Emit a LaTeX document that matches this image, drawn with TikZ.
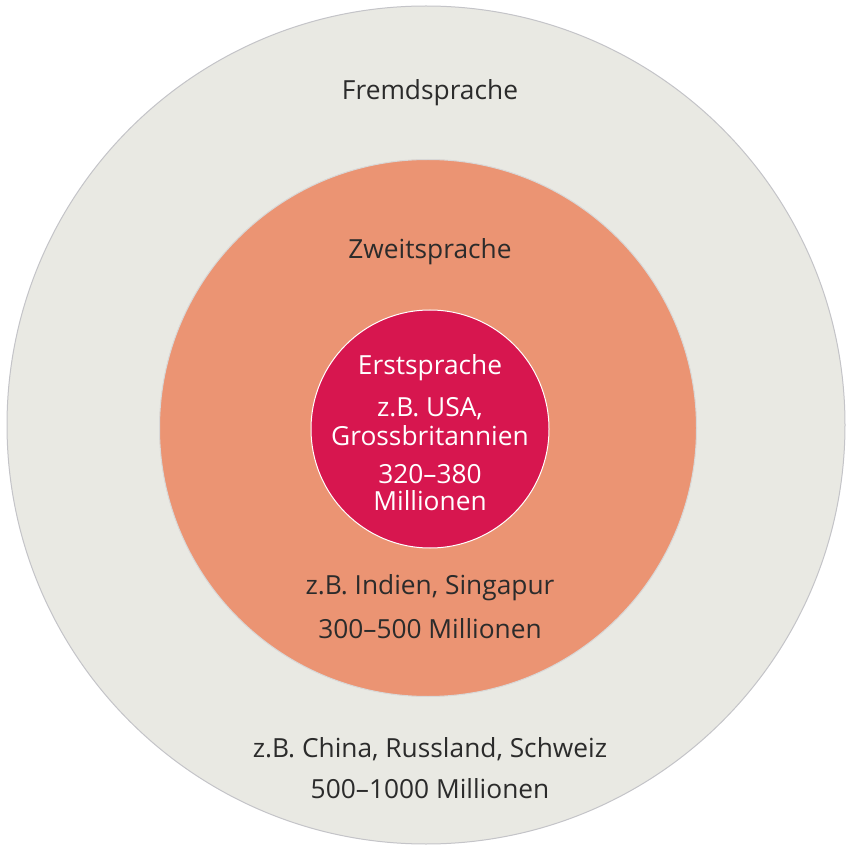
\documentclass[tikz,border=0pt]{standalone}
\usepackage{fontspec}
\setmainfont{Open Sans}
\definecolor{outerfill}{HTML}{E9E9E3}
\definecolor{outerline}{HTML}{C4C4C8}
\definecolor{midfill}{HTML}{EB9473}
\definecolor{midline}{HTML}{D8D8D8}
\definecolor{innerfill}{HTML}{D7164F}
\definecolor{txt}{HTML}{2B2B2B}
\tikzset{
  lbl/.style={font=\fontsize{26.3}{30}\selectfont, text=txt, inner sep=0pt, anchor=center},
  wlbl/.style={lbl, text=white},
}
\begin{document}
\begin{tikzpicture}[x=1pt,y=-1pt]
\useasboundingbox (0,0) rectangle (852,850);
\fill[white] (0,0) rectangle (852,850);
\node[circle, fill=outerfill, draw=outerline, line width=1pt, minimum size=838pt, inner sep=0pt] (outer) at (426,425) {};
\node[circle, fill=midfill, draw=midline, line width=1pt, minimum size=537pt, inner sep=0pt] (mid) at (428,428) {};
\node[circle, fill=innerfill, draw=white, line width=1pt, minimum size=238pt, inner sep=0pt] (inner) at (430,429) {};
\node[lbl] (fremd) at (430,93) {Fremdsprache};
\node[lbl] (zweit) at (430,252) {Zweitsprache};
\node[wlbl] (erst) at (430,368) {Erstsprache};
\node[wlbl] (usa) at (430,409) {z.B. USA,};
\node[wlbl] (gb) at (430,436) {Grossbritannien};
\node[wlbl] (n1) at (430,474) {320–380};
\node[wlbl] (m1) at (430,501) {Millionen};
\node[lbl] (ind) at (430,588) {z.B. Indien, Singapur};
\node[lbl] (n2) at (430,629) {300–500 Millionen};
\node[lbl] (chn) at (430,749) {z.B. China, Russland, Schweiz};
\node[lbl] (n3) at (430,789) {500–1000 Millionen};
\end{tikzpicture}
\end{document}
